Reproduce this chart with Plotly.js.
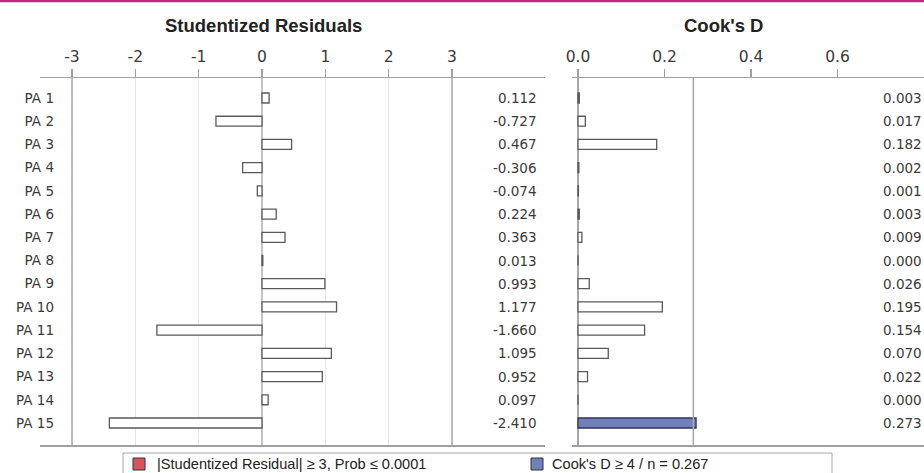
<!DOCTYPE html>
<html>
<head>
<meta charset="utf-8">
<script src="https://cdn.plot.ly/plotly-3.0.1.min.js"></script>
<style>html,body{margin:0;padding:0;background:#fff;}#chart{width:924px;height:473px;}</style>
</head>
<body>
<div id="chart"></div>
<script>
// ---- data ----
const categories = ["PA 1","PA 2","PA 3","PA 4","PA 5","PA 6","PA 7","PA 8","PA 9","PA 10","PA 11","PA 12","PA 13","PA 14","PA 15"];
const studentizedResiduals = [0.112,-0.727,0.467,-0.306,-0.074,0.224,0.363,0.013,0.993,1.177,-1.660,1.095,0.952,0.097,-2.410];
const cooksD = [0.003,0.017,0.182,0.002,0.001,0.003,0.009,0.000,0.026,0.195,0.154,0.070,0.022,0.000,0.273];
const residTicks = [-3,-2,-1,0,1,2,3];
const residTickText = ["-3","-2","-1","0","1","2","3"];
const cookTicks = [0,0.2,0.4,0.6];
const cookTickText = ["0.0","0.2","0.4","0.6"];
const nObs = 15;
const cookThreshold = 4 / nObs;
const legendLabels = ["|Studentized Residual| \u2265 3, Prob \u2264 0.0001", "Cook's D \u2265 4 / n = 0.267"];

// ---- layout helpers (pixels -> paper) ----
const W = 924, H = 473;
const px = v => v / W;
const py = v => (H - v) / H;
const yDom = [py(445), py(78)];

const BAR_LINE = '#5a5a5a';
const BLUE = '#7080b9';
const RED = '#d9545b';
const tickFont = {family: 'DejaVu Sans', size: 15.5, color: '#3a3a3a'};
const valFont = {family: 'DejaVu Sans', size: 13.5, color: '#3a3a3a'};
const titleFont = {family: 'Liberation Sans, Arial', size: 18.5, color: '#222'};
const legFont = {family: 'Liberation Sans, Arial', size: 14.6, color: '#222'};

const traces = [
  {
    type: 'bar', orientation: 'h', x: studentizedResiduals, y: categories,
    xaxis: 'x', yaxis: 'y', width: 0.43,
    marker: {color: '#ffffff', line: {color: BAR_LINE, width: 1.3}},
    showlegend: false, hoverinfo: 'skip'
  },
  {
    type: 'bar', orientation: 'h', x: cooksD, y: categories,
    xaxis: 'x2', yaxis: 'y', width: 0.43,
    marker: {
      color: cooksD.map(v => v >= cookThreshold ? BLUE : '#ffffff'),
      line: {color: cooksD.map(v => v >= cookThreshold ? '#2e3461' : BAR_LINE), width: 1.3}
    },
    showlegend: false, hoverinfo: 'skip'
  }
];

const annotations = [];
categories.forEach((c, i) => {
  annotations.push({xref: 'paper', yref: 'y', x: px(539), y: c, xanchor: 'right', yanchor: 'middle',
    text: studentizedResiduals[i].toFixed(3), showarrow: false, font: valFont});
  annotations.push({xref: 'paper', yref: 'y', x: 1, y: c, xanchor: 'right', yanchor: 'middle',
    text: cooksD[i].toFixed(3), showarrow: false, font: valFont});
});
annotations.push({xref: 'paper', yref: 'paper', x: px(263), y: py(26), xanchor: 'center', yanchor: 'middle',
  text: '<b>Studentized Residuals</b>', showarrow: false, font: titleFont});
annotations.push({xref: 'paper', yref: 'paper', x: px(723), y: py(26), xanchor: 'center', yanchor: 'middle',
  text: "<b>Cook's D</b>", showarrow: false, font: titleFont});
// legend texts
annotations.push({xref: 'paper', yref: 'paper', x: px(155), y: py(464), xanchor: 'left', yanchor: 'middle',
  text: legendLabels[0], showarrow: false, font: legFont});
annotations.push({xref: 'paper', yref: 'paper', x: px(550), y: py(464), xanchor: 'left', yanchor: 'middle',
  text: legendLabels[1], showarrow: false, font: legFont});

const shapes = [
  {type: 'line', xref: 'paper', yref: 'paper', x0: 0, x1: 1, y0: 1 - 1/H, y1: 1 - 1/H, line: {color: '#cc2277', width: 2.5}},
  {type: 'line', xref: 'x', yref: 'paper', x0: residTicks[0], x1: residTicks[0], y0: yDom[0], y1: yDom[1], line: {color: '#a8a8a8', width: 1.5}},
  {type: 'line', xref: 'x', yref: 'paper', x0: residTicks[residTicks.length-1], x1: residTicks[residTicks.length-1], y0: yDom[0], y1: yDom[1], line: {color: '#a8a8a8', width: 1.5}},
  {type: 'line', xref: 'x2', yref: 'paper', x0: cookThreshold, x1: cookThreshold, y0: yDom[0], y1: yDom[1], line: {color: '#a8a8a8', width: 1.5}},
  // legend box and swatches
  {type: 'rect', xref: 'paper', yref: 'paper', x0: px(123), x1: px(832), y0: py(476), y1: py(453), line: {color: '#a8a8a8', width: 1}, fillcolor: 'rgba(0,0,0,0)'},
  {type: 'rect', xref: 'paper', yref: 'paper', x0: px(133), x1: px(145), y0: py(470), y1: py(458), line: {color: '#333', width: 1}, fillcolor: RED},
  {type: 'rect', xref: 'paper', yref: 'paper', x0: px(531), x1: px(543), y0: py(470), y1: py(458), line: {color: '#333', width: 1}, fillcolor: BLUE}
];

const layout = {
  width: W, height: H,
  margin: {l: 0, r: 0, t: 0, b: 0, pad: 0},
  paper_bgcolor: '#ffffff', plot_bgcolor: 'rgba(0,0,0,0)',
  bargap: 0,
  showlegend: false,
  xaxis: {
    domain: [px(40), px(545)], range: [-3.5053, 4.4684], anchor: 'y', side: 'top',
    tickvals: residTicks, ticktext: residTickText, tickfont: tickFont,
    ticks: 'outside', ticklen: 8, tickcolor: '#a0a0a0', tickwidth: 1.3,
    ticklabelstandoff: 0,
    showline: true, linecolor: '#a0a0a0', linewidth: 1.5, mirror: true,
    showgrid: true, gridcolor: '#e6e6e6', gridwidth: 1,
    zeroline: true, zerolinecolor: '#c4c4c4', zerolinewidth: 1.3,
    fixedrange: true
  },
  xaxis2: {
    domain: [px(572), 1], range: [-0.01387, 0.8], anchor: 'y', side: 'top',
    tickvals: cookTicks, ticktext: cookTickText, tickfont: tickFont,
    ticks: 'outside', ticklen: 8, tickcolor: '#a0a0a0', tickwidth: 1.3,
    ticklabelstandoff: 0,
    showline: true, linecolor: '#a0a0a0', linewidth: 1.5, mirror: true,
    showgrid: false,
    zeroline: true, zerolinecolor: '#a8a8a8', zerolinewidth: 1.5,
    fixedrange: true
  },
  yaxis: {
    domain: yDom, range: [14.948, -0.862], type: 'category',
    anchor: 'free', position: px(54), side: 'left',
    showline: false, showgrid: false, zeroline: false, ticks: '',
    tickfont: valFont, fixedrange: true
  },
  annotations: annotations,
  shapes: shapes
};

Plotly.newPlot('chart', traces, layout, {staticPlot: true, displayModeBar: false});
</script>
</body>
</html>
